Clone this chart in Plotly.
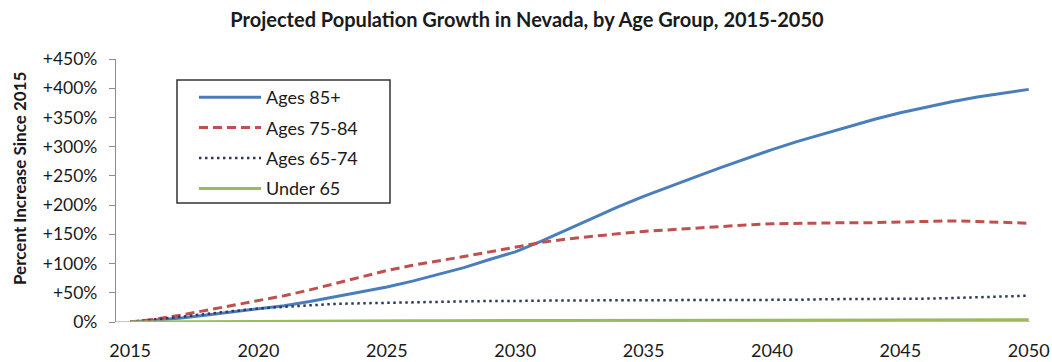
import plotly.graph_objects as go

# Projected percent growth since 2015 by age group (annual values)
years = list(range(2015, 2051))

ages_85_plus = [0, 3, 7, 12, 17, 22, 28, 35, 43, 51, 60, 70, 81, 93, 107, 120,
                138, 158, 178, 197, 215, 232, 248, 264, 280, 295, 309, 322, 335,
                347, 358, 368, 377, 385, 392, 398]
ages_75_84 = [0, 5, 12, 20, 28, 37, 45, 55, 66, 77, 88, 97, 104, 112, 120, 128,
              136, 142, 147, 151, 155, 158, 161, 164, 166, 168, 169, 169, 170,
              170, 171, 172, 173, 172, 170, 169]
ages_65_74 = [0, 4, 9, 14, 19, 23, 26, 29, 31, 32, 33, 34, 35, 35, 36, 36, 37,
              37, 37, 37, 38, 38, 38, 38, 38, 38, 38, 39, 39, 39, 40, 40, 41,
              42, 43, 45]
under_65 = [0, 0.3, 0.6, 0.9, 1.1, 1.3, 1.5, 1.7, 1.9, 2.0, 2.1, 2.2, 2.3, 2.4,
            2.5, 2.6, 2.7, 2.8, 2.9, 3.0, 3.1, 3.1, 3.2, 3.2, 3.3, 3.3, 3.4,
            3.4, 3.5, 3.5, 3.6, 3.6, 3.7, 3.7, 3.8, 3.8]

y_tick_vals = [0, 50, 100, 150, 200, 250, 300, 350, 400, 450]
y_tick_text = ["0%", "+50%", "+100%", "+150%", "+200%", "+250%", "+300%",
               "+350%", "+400%", "+450%"]
x_tick_vals = [2015, 2020, 2025, 2030, 2035, 2040, 2045, 2050]

FONT = "Lato"
TEXT = "#1a1a1a"

# plot area in pixels: left 116, right 1030, top 59, bottom 322
PL, PR, PT, PB = 116, 1030, 59, 322


def px_x(px):
    return (px - PL) / (PR - PL)


def px_y(py):
    return 1 - (py - PT) / (PB - PT)


fig = go.Figure()
series = [
    ("Ages 85+", ages_85_plus, dict(color="#4A7EBB", width=3)),
    ("Ages 75-84", ages_75_84, dict(color="#C0504D", width=3, dash="9px,5px")),
    ("Ages 65-74", ages_65_74, dict(color="#2E3A5C", width=2.5, dash="2.5px,3.5px")),
    ("Under 65", under_65, dict(color="#9BBB59", width=3)),
]
for name, vals, line in series:
    fig.add_trace(go.Scatter(x=years, y=vals, name=name, mode="lines",
                             line=line, legendgroup=name))

fig.update_layout(
    width=1052, height=362,
    margin=dict(l=PL, r=1052 - PR, t=PT, b=362 - PB, autoexpand=False),
    paper_bgcolor="white", plot_bgcolor="white",
    font=dict(family=FONT, color=TEXT),
    title=dict(text="<b>Projected Population Growth in Nevada, by Age Group, 2015-2050</b>",
               x=527 / 1052, xanchor="center", y=1 - 20 / 362, yanchor="middle",
               font=dict(size=20, family=FONT, color=TEXT)),
    showlegend=True,
    legend=dict(x=px_x(194), y=px_y(79), xanchor="left", yanchor="top",
                borderwidth=0, bgcolor="rgba(0,0,0,0)",
                font=dict(size=18, family=FONT, color=TEXT),
                itemwidth=62, tracegroupgap=4,
                traceorder="grouped"),
    xaxis=dict(range=[2014.45, 2050.05], tickvals=x_tick_vals, showgrid=False,
               zeroline=False, showline=False, ticks="", automargin=False,
               tickfont=dict(size=18, family=FONT, color=TEXT),
               ticklabelstandoff=16),
    yaxis=dict(range=[0, 450], tickvals=y_tick_vals, ticktext=y_tick_text,
               showgrid=False, zeroline=False, showline=True, linecolor="#8c8c8c",
               linewidth=1.2, ticks="outside", ticklen=6, tickcolor="#8c8c8c",
               automargin=False,
               tickfont=dict(size=17.5, family=FONT, color=TEXT),
               ticklabelstandoff=8),
    annotations=[dict(text="<b>Percent Increase Since 2015</b>", textangle=-90,
                      xref="paper", yref="paper", x=px_x(19), y=px_y(179),
                      xanchor="center", yanchor="middle", showarrow=False,
                      font=dict(size=17, family=FONT, color=TEXT))],
)

# baseline along 0%
fig.add_shape(type="line", xref="paper", yref="y", x0=0, x1=1, y0=0, y1=0,
              line=dict(color="#8c8c8c", width=1.2), layer="below")
# legend frame
fig.add_shape(type="rect", xref="paper", yref="paper",
              x0=px_x(177), x1=px_x(390), y0=px_y(203), y1=px_y(80),
              line=dict(color="#333333", width=1.5), fillcolor="white", layer="below")

fig.write_html("out.html")
